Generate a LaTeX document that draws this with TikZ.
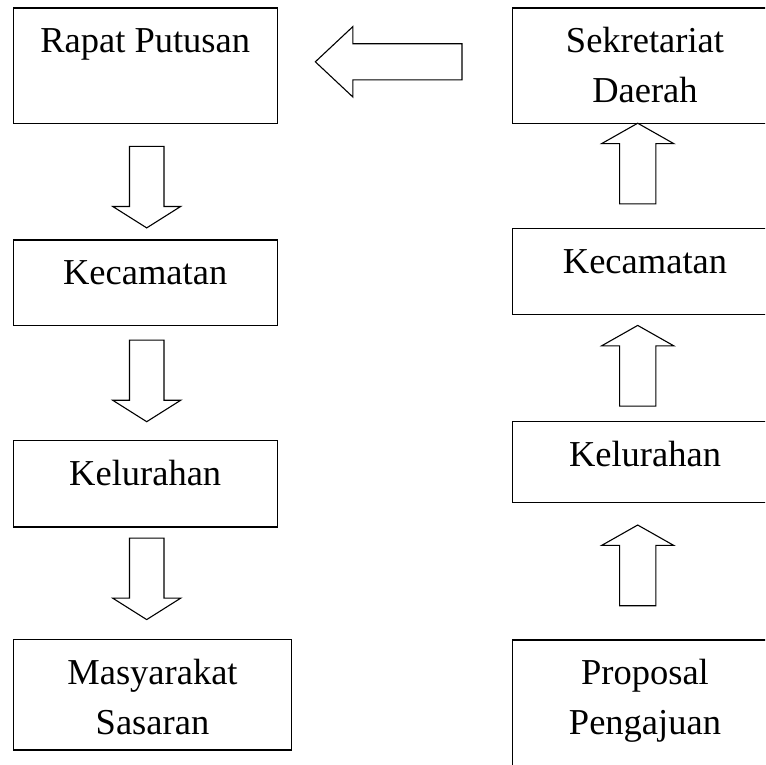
\documentclass[tikz,border=0pt]{standalone}
\usepackage{fontspec}
\setmainfont{Liberation Serif}
\usetikzlibrary{shapes.arrows}

\begin{document}
\begin{tikzpicture}[x=1pt,y=-1pt,
                    box/.style={draw,line width=1.3pt,inner xsep=4pt,inner ysep=15pt,text height=30pt,
                                align=center,anchor=north,minimum width=264pt,
                                font=\fontsize{36.5}{49.7}\selectfont},
                    twolines/.style={text height=79.7pt},
                    blockarrow/.style={draw,line width=1.1pt,single arrow,inner xsep=0pt,
                                       single arrow head indent=0pt},
                    downarrow/.style={blockarrow,rotate=-90,inner ysep=16.7pt,single arrow head extend=16.7pt,
                                      single arrow tip angle=115.5,minimum height=81.5pt},
                    uparrow/.style={blockarrow,rotate=90,inner ysep=17.6pt,single arrow head extend=17.9pt,
                                    single arrow tip angle=121,minimum height=80.7pt}
]
\useasboundingbox (0,0) rectangle (765,765);
\clip (0,0) rectangle (765,765);
%
% alur kiri
\node [box,text depth=55.3pt] at (145.2,7.3) (rapat) {Rapat Putusan};
\node [box,text depth=25.7pt] at (145.2,239.3) (kec1) {Kecamatan};
\node [box,text depth=26.7pt] at (145.2,439.7) (kel1) {Kelurahan};
\node [box,twolines,text depth=0.7pt,minimum width=278.4pt] at (152.5,639) (masy) {Masyarakat\\Sasaran};
%
% alur kanan
\node [box,twolines,text depth=6pt,minimum width=264.6pt] at (645,7.3) (sekda) {Sekretariat\\Daerah};
\node [box,text depth=26pt,minimum width=264.6pt] at (645,227.7) (kec2) {Kecamatan};
\node [box,text depth=20.7pt,minimum width=264.6pt] at (645,421) (kel2) {Kelurahan};
\node [box,twolines,text depth=60pt,minimum width=264.6pt] at (645,639.3) (prop) {Proposal\\Pengajuan};
%
\node [downarrow] at (146.7,181.7) (d1) {};
\node [downarrow] at (146.7,375.5) (d2) {};
\node [downarrow] at (146.7,573.4) (d3) {};
%
\node [uparrow] at (637.7,168.7) (u1) {};
\node [uparrow] at (637.7,370.9) (u2) {};
\node [uparrow] at (637.7,570.5) (u3) {};
%
\node [blockarrow,rotate=180,inner ysep=17.5pt,single arrow head extend=17.2pt,
       single arrow tip angle=86.3,minimum height=146.7pt] at (398.3,61.8) (l1) {};
\end{tikzpicture}
\end{document}
